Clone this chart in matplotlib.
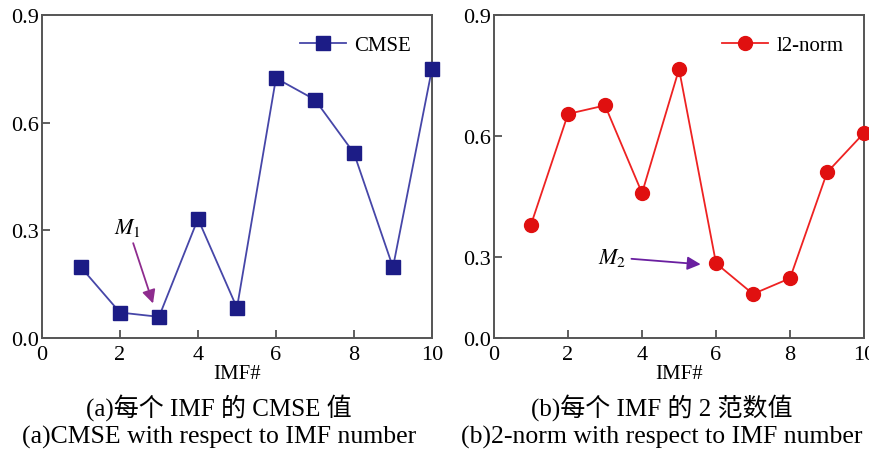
import matplotlib
matplotlib.use('Agg')
import matplotlib.pyplot as plt

plt.rcParams['font.family'] = ['Liberation Serif', 'Noto Sans CJK SC', 'DejaVu Sans']
plt.rcParams['mathtext.fontset'] = 'stix'

## data
imf = [1, 2, 3, 4, 5, 6, 7, 8, 9, 10]
cmse = [0.197, 0.071, 0.059, 0.332, 0.084, 0.724, 0.664, 0.515, 0.197, 0.750]
l2norm = [0.381, 0.655, 0.676, 0.459, 0.766, 0.285, 0.209, 0.248, 0.510, 0.608]

xticks = [0, 2, 4, 6, 8, 10]
yticks_a = [0.0, 0.3, 0.6, 0.9]
# right panel: bottom of the axis is labelled 0.0 in the source although it sits at 0.1
yticks_b = [0.1, 0.3, 0.6, 0.9]
yticklabels = ['0.0', '0.3', '0.6', '0.9']

cap_a = ['(a)每个 IMF 的 CMSE 值', '(a)CMSE with respect to IMF number']
cap_b = ['(b)每个 IMF 的 2 范数值', '(b)2-norm with respect to IMF number']

fig = plt.figure(figsize=(8.69, 4.52), dpi=100)
ax1 = fig.add_axes([0.0483, 0.25, 0.4488, 0.7146])
ax2 = fig.add_axes([0.5685, 0.25, 0.4258, 0.7146])

ax1.plot(imf, cmse, color='#4646a8', lw=1.3, marker='s', ms=9.5,
         mfc='#1c1c86', mec='#1c1c86', label='CMSE', clip_on=False, zorder=3)
ax2.plot(imf, l2norm, color='#ee2222', lw=1.3, marker='o', ms=10,
         mfc='#e01010', mec='#e01010', label='l2-norm', clip_on=False, zorder=3)

ax1.set_ylim(0, 0.9)
ax1.set_yticks(yticks_a)
ax1.set_yticklabels(yticklabels)
ax2.set_ylim(0.1, 0.9)
ax2.set_yticks(yticks_b)
ax2.set_yticklabels(yticklabels)

for ax in (ax1, ax2):
    ax.set_xlim(0, 10)
    ax.set_xticks(xticks)
    ax.tick_params(direction='in', length=6, width=1.2, labelsize=16, pad=2, color='#444444')
    ax.tick_params(axis='x', pad=5)
    for s in ax.spines.values():
        s.set_color('#555555')
        s.set_linewidth(1.4)
    ax.set_xlabel('IMF#', fontsize=15, labelpad=0)
    ax.legend(loc='upper right', frameon=False, fontsize=15, handlelength=2.2,
              borderaxespad=0.6, handletextpad=0.4)

ax1.annotate('$M_1$', xy=(2.87, 0.089), xytext=(2.2, 0.31), fontsize=16,
             ha='center', va='center',
             arrowprops=dict(arrowstyle='-|>', color='#8e2c8e', lw=1.3, mutation_scale=20))
ax2.annotate('$M_2$', xy=(5.66, 0.282), xytext=(3.18, 0.3), fontsize=16,
             ha='center', va='center',
             arrowprops=dict(arrowstyle='-|>', color='#6a1fa0', lw=1.3, mutation_scale=20))

fig.text(0.252, 0.099, cap_a[0], ha='center', va='center', fontsize=18)
fig.text(0.252, 0.033, cap_a[1], ha='center', va='center', fontsize=18.5)
fig.text(0.762, 0.099, cap_b[0], ha='center', va='center', fontsize=18)
fig.text(0.762, 0.033, cap_b[1], ha='center', va='center', fontsize=18.5)

fig.savefig('out.png', dpi=100)
